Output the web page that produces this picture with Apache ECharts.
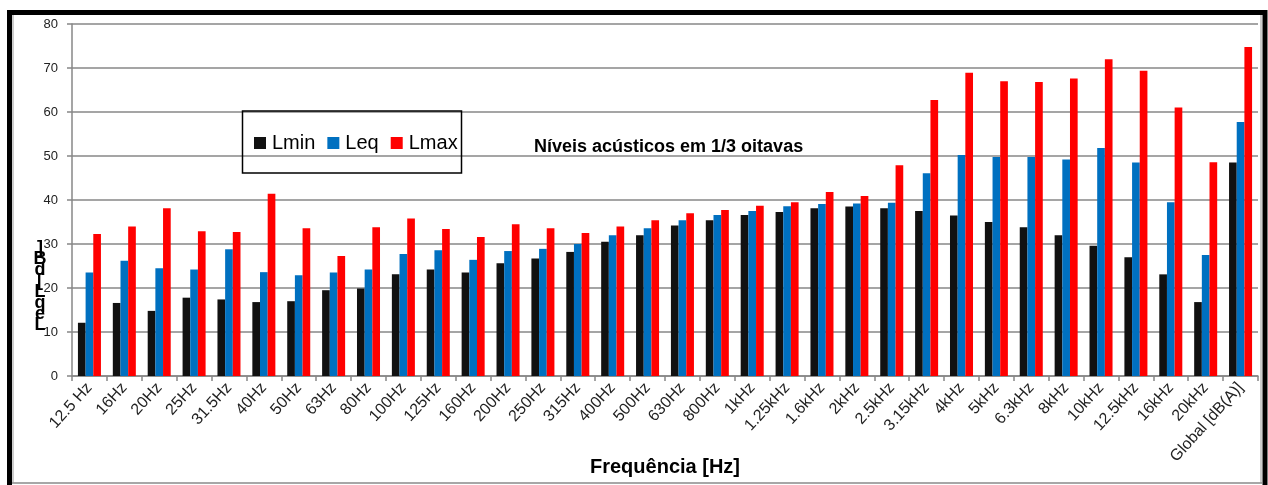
<!DOCTYPE html>
<html>
<head>
<meta charset="utf-8">
<script src="https://cdn.jsdelivr.net/npm/echarts@6/dist/echarts.min.js"></script>
<style>
  html, body { margin: 0; padding: 0; background: #ffffff; }
  #chart { width: 1268px; height: 485px; }
</style>
</head>
<body>
<div id="chart"></div>
<script>
// 1/3-octave band centre frequencies plus the overall A-weighted level
const categories = ['12.5 Hz', '16Hz', '20Hz', '25Hz', '31.5Hz', '40Hz', '50Hz', '63Hz', '80Hz', '100Hz',
  '125Hz', '160Hz', '200Hz', '250Hz', '315Hz', '400Hz', '500Hz', '630Hz', '800Hz', '1kHz',
  '1.25kHz', '1.6kHz', '2kHz', '2.5kHz', '3.15kHz', '4kHz', '5kHz', '6.3kHz', '8kHz', '10kHz',
  '12.5kHz', '16kHz', '20kHz', 'Global [dB(A)]'];

const lmin = [12.1, 16.6, 14.8, 17.8, 17.4, 16.8, 17.0, 19.5, 19.9, 23.1,
  24.2, 23.5, 25.6, 26.7, 28.2, 30.5, 32.0, 34.2, 35.4, 36.6,
  37.3, 38.1, 38.5, 38.1, 37.5, 36.5, 35.0, 33.8, 32.0, 29.6,
  27.0, 23.1, 16.8, 48.5];

const leq = [23.5, 26.2, 24.5, 24.2, 28.8, 23.6, 22.9, 23.5, 24.2, 27.7,
  28.6, 26.4, 28.4, 28.9, 30.0, 32.0, 33.6, 35.4, 36.6, 37.5,
  38.6, 39.1, 39.2, 39.4, 46.1, 50.2, 49.8, 49.8, 49.2, 51.8,
  48.5, 39.5, 27.5, 57.7];

const lmax = [32.3, 34.0, 38.1, 32.9, 32.7, 41.4, 33.6, 27.3, 33.8, 35.8,
  33.4, 31.6, 34.5, 33.6, 32.5, 34.0, 35.4, 37.0, 37.7, 38.7,
  39.5, 41.8, 40.9, 47.9, 62.7, 68.9, 67.0, 66.8, 67.6, 72.0,
  69.4, 61.0, 48.6, 74.8];

const yTicks = { min: 0, max: 80, interval: 10 };

const FONT = "'Liberation Sans', Arial, sans-serif";
const GRID_GREY = '#878787';

const chart = echarts.init(document.getElementById('chart'), null, { renderer: 'canvas' });

const barSeries = (name, data, color) => ({
  name: name,
  type: 'bar',
  data: data,
  barGap: '0%',
  barCategoryGap: '34%',
  itemStyle: { color: color },
  emphasis: { disabled: true }
});

chart.setOption({
  animation: false,
  backgroundColor: '#ffffff',
  grid: { left: 72, right: 10, top: 24, bottom: 109, containLabel: false, outerBoundsMode: 'none' },
  title: {
    text: 'Níveis acústicos em 1/3 oitavas',
    left: 534,
    top: 138,
    padding: 0,
    textStyle: { fontFamily: FONT, fontSize: 18, fontWeight: 'bold', color: '#000' }
  },
  legend: {
    left: 254,
    top: 133,
    padding: 0,
    itemWidth: 12,
    itemHeight: 12,
    itemGap: 12,
    icon: 'rect',
    selectedMode: false,
    textStyle: { fontFamily: FONT, fontSize: 20, color: '#000', padding: [0, 0, 0, 1] },
    data: ['Lmin', 'Leq', 'Lmax']
  },
  xAxis: {
    type: 'category',
    data: categories,
    name: 'Frequência [Hz]',
    nameLocation: 'middle',
    nameGap: 81,
    nameMoveOverlap: false,
    nameTextStyle: { fontFamily: FONT, fontSize: 20, fontWeight: 'bold', color: '#000', verticalAlign: 'top' },
    axisLine: { lineStyle: { color: GRID_GREY, width: 1.5 } },
    axisTick: { show: true, length: 5, lineStyle: { color: GRID_GREY, width: 1.5 } },
    axisLabel: {
      interval: 0,
      rotate: 48,
      margin: 9,
      fontFamily: FONT,
      fontSize: 16,
      color: '#222'
    },
    splitLine: { show: false }
  },
  yAxis: {
    type: 'value',
    min: yTicks.min,
    max: yTicks.max,
    interval: yTicks.interval,
    axisLine: { show: true, lineStyle: { color: GRID_GREY, width: 1.5 } },
    axisTick: { show: true, length: 5, lineStyle: { color: GRID_GREY, width: 1.5 } },
    axisLabel: { fontFamily: FONT, fontSize: 13, color: '#222', margin: 14 },
    splitLine: { lineStyle: { color: GRID_GREY, width: 1.5 } }
  },
  series: [
    barSeries('Lmin', lmin, '#111111'),
    barSeries('Leq', leq, '#0070C0'),
    barSeries('Lmax', lmax, '#FF0000')
  ],
  graphic: [
    // outer frame: heavy black on three sides, thin grey along the bottom
    { type: 'line', silent: true, shape: { x1: 12, y1: 483, x2: 1262, y2: 483 }, style: { stroke: '#8a8a8a', lineWidth: 1.5 } },
    { type: 'line', silent: true, shape: { x1: 13, y1: 15, x2: 13, y2: 483 }, style: { stroke: '#9a9a9a', lineWidth: 1 } },
    { type: 'line', silent: true, shape: { x1: 1261, y1: 15, x2: 1261, y2: 483 }, style: { stroke: '#9a9a9a', lineWidth: 1 } },
    { type: 'polyline', silent: true, shape: { points: [[9.5, 485], [9.5, 12.5], [1265, 12.5], [1265, 485]] }, style: { stroke: '#000', lineWidth: 5, fill: null } },
    // legend box
    { type: 'rect', silent: true, z: 100, shape: { x: 242.5, y: 111, width: 219, height: 62 }, style: { fill: null, stroke: '#000', lineWidth: 1.5 } },
    // vertical axis caption, stacked glyphs
    {
      type: 'text', silent: true, z: 100,
      x: 40, y: 243,
      style: {
        text: ']\nB\nd\n[\nL\nq\ne\nL',
        font: 'bold 18px ' + FONT,
        lineHeight: 11,
        fill: '#000',
        align: 'center',
        verticalAlign: 'top'
      }
    }
  ]
});
</script>
</body>
</html>
